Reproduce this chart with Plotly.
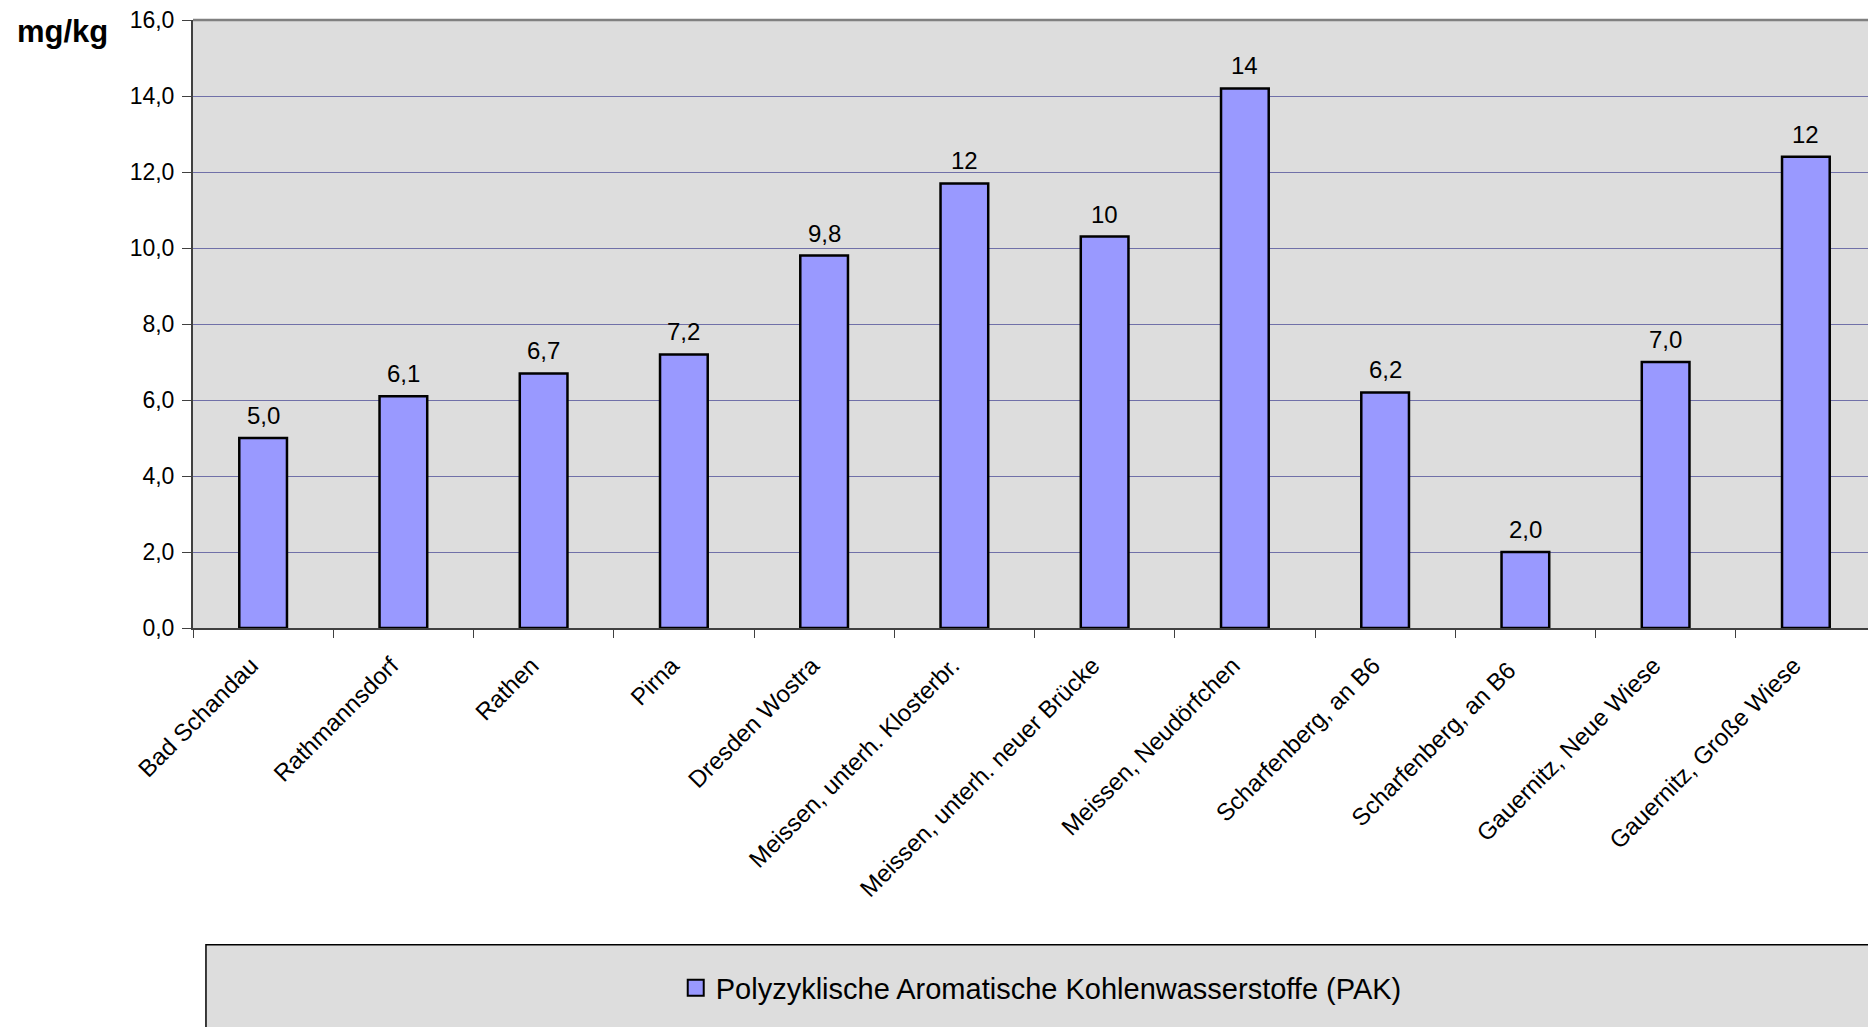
import plotly.graph_objects as go

categories = [
    "Bad Schandau", "Rathmannsdorf", "Rathen", "Pirna", "Dresden Wostra",
    "Meissen, unterh. Klosterbr.", "Meissen, unterh. neuer Brücke",
    "Meissen, Neudörfchen", "Scharfenberg, an B6", "Scharfenberg, an B6 ",
    "Gauernitz, Neue Wiese", "Gauernitz, Große Wiese",
]
values = [5.0, 6.1, 6.7, 7.2, 9.8, 11.7, 10.3, 14.2, 6.2, 2.0, 7.0, 12.4]
series_name = "Polyzyklische Aromatische Kohlenwasserstoffe (PAK)"
unit_label = "mg/kg"
y_ticks = [0, 2, 4, 6, 8, 10, 12, 14, 16]


def fmt(v):
    if v >= 10:
        return f"{v:.0f}"
    return f"{v:.1f}".replace(".", ",")


labels = [fmt(v) for v in values]

FONT = "Liberation Sans, Arial, sans-serif"
BAR = "#9999FF"

fig = go.Figure()
fig.add_trace(go.Bar(
    x=categories, y=values, width=0.34,
    marker=dict(color=BAR, line=dict(color="black", width=2.5)),
    showlegend=False, name=series_name,
))
fig.add_trace(go.Scatter(
    x=[None], y=[None], mode="markers", name=series_name,
    marker=dict(symbol="square", size=19, color=BAR,
                line=dict(color="black", width=2)),
))

annotations = [
    dict(x=c, y=v, text=t, xref="x", yref="y", showarrow=False,
         yanchor="bottom", yshift=7,
         font=dict(size=24, family=FONT, color="black"))
    for c, v, t in zip(categories, values, labels)
]
annotations.append(
    dict(text=f"<b>{unit_label}</b>", xref="paper", yref="paper",
         x=-0.1058, y=0.981, xanchor="left", yanchor="middle",
         showarrow=False, font=dict(size=31, family=FONT, color="black"))
)

fig.update_layout(
    width=1868, height=1019,
    margin=dict(l=185, r=0, t=12, b=399, pad=0),
    paper_bgcolor="white", plot_bgcolor="#DDDDDD",
    font=dict(family=FONT, size=23, color="black"),
    separators=",.",
    showlegend=True,
    legend=dict(
        x=0.504, y=-0.592, xanchor="center", yanchor="middle",
        bgcolor="rgba(0,0,0,0)", font=dict(size=29, family=FONT),
        itemwidth=30,
    ),
    xaxis=dict(
        showline=True, linecolor="#404040", linewidth=2,
        ticks="outside", ticklen=8, tickcolor="#404040", tickwidth=1,
        tickson="boundaries", tickangle=-45,
        ticklabelstandoff=12, ticklabelshift=-12,
        tickfont=dict(size=24, family=FONT),
        showgrid=False,
    ),
    yaxis=dict(
        range=[0, 16], tickvals=y_ticks, tickformat=".1f",
        showline=True, linecolor="#404040", linewidth=2,
        ticks="outside", ticklen=9, tickcolor="#404040",
        ticklabelstandoff=3, ticklabeloverflow="allow",
        tickfont=dict(size=23, family=FONT),
        showgrid=True, gridcolor="#7070A8", gridwidth=1,
        zeroline=False,
    ),
    shapes=[
        dict(type="line", xref="paper", yref="paper", x0=0, x1=1, y0=1, y1=1,
             line=dict(color="#808080", width=2.5)),
        dict(type="rect", xref="paper", yref="paper", x0=0.0077, x1=1.02,
             y0=-0.72, y1=-0.521, line=dict(color="black", width=1.5),
             fillcolor="#DDDDDD", layer="below"),
    ],
    annotations=annotations,
)

fig.write_html("out.html")
